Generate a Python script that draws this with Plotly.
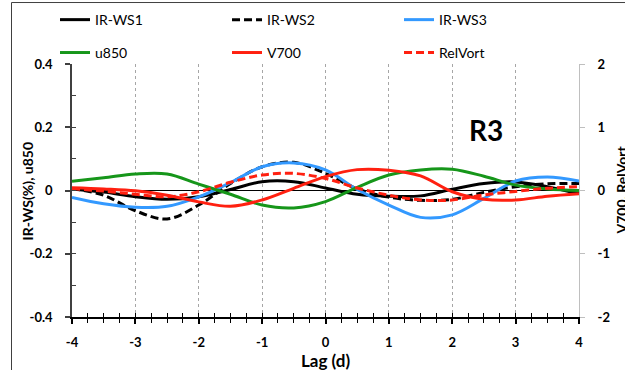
import plotly.graph_objects as go

# ---------------- data ----------------
lag = [-4, -3.5, -3, -2.5, -2, -1.5, -1, -0.5, 0, 0.5, 1, 1.5, 2, 2.5, 3, 3.5, 4]

ir_ws1 = [0.005, -0.005, -0.02, -0.028, -0.02, 0.003, 0.028, 0.028, 0.008, -0.012, -0.018, -0.017, 0.004, 0.022, 0.027, 0.012, -0.01]
ir_ws2 = [0.006, -0.015, -0.064, -0.09, -0.046, 0.022, 0.075, 0.089, 0.054, 0.005, -0.021, -0.031, -0.028, -0.006, 0.012, 0.021, 0.022]
ir_ws3 = [-0.022, -0.042, -0.053, -0.05, -0.02, 0.025, 0.075, 0.087, 0.065, 0.003, -0.046, -0.085, -0.077, -0.025, 0.03, 0.043, 0.03]
u850 = [0.029, 0.04, 0.052, 0.052, 0.02, -0.012, -0.046, -0.055, -0.035, 0.01, 0.049, 0.065, 0.067, 0.045, 0.017, 0.005, 0.0]
v700 = [0.045, 0.025, -0.005, -0.075, -0.18, -0.25, -0.15, 0.035, 0.22, 0.33, 0.32, 0.23, -0.02, -0.14, -0.15, -0.09, -0.05]
relvort = [0.03, -0.01, -0.06, -0.1, -0.02, 0.13, 0.245, 0.27, 0.19, 0.04, -0.075, -0.15, -0.15, -0.07, -0.015, 0.035, 0.06]

x_tick_vals = [-4, -3, -2, -1, 0, 1, 2, 3, 4]
x_tick_text = ["-4", "-3", "-2", "-1", "0", "1", "2", "3", "4"]
left_tick_vals = [0.4, 0.2, 0, -0.2, -0.4]
left_tick_text = ["0.4", "0.2", "0", "-0.2", "-0.4"]
right_tick_vals = [2, 1, 0, -1, -2]
right_tick_text = ["2", "1", "0", "-1", "-2"]

# ---------------- figure ----------------
FONT = "Lato"
BLACK = "#000000"
BLUE = "#3399ff"
GREEN = "#16961a"
RED = "#ff2010"

fig = go.Figure()

def add(name, y, color, dash, yaxis, legend):
    fig.add_trace(go.Scatter(
        x=lag, y=y, name=name, mode="lines",
        line=dict(color=color, width=3, dash=dash, shape="spline"),
        yaxis=yaxis, legend=legend,
    ))

add("IR-WS1", ir_ws1, BLACK, "solid", "y", "legend")
add("IR-WS2", ir_ws2, BLACK, "8px,4px", "y", "legend")
add("IR-WS3", ir_ws3, BLUE, "solid", "y", "legend")
add("u850", u850, GREEN, "solid", "y", "legend2")
add("V700", v700, RED, "solid", "y2", "legend2")
add("RelVort", relvort, RED, "8px,4px", "y2", "legend2")

# helper empty traces for the overlay tick axes
fig.add_trace(go.Scatter(x=[], y=[], xaxis="x2", yaxis="y", showlegend=False, hoverinfo="skip"))
fig.add_trace(go.Scatter(x=[], y=[], xaxis="x", yaxis="y3", showlegend=False, hoverinfo="skip"))

tickfont = dict(family=FONT, size=13, color=BLACK, weight="bold")
legfont = dict(family=FONT, size=14, color=BLACK)

fig.update_layout(
    width=625, height=370,
    margin=dict(l=72, r=46, t=64, b=53, autoexpand=False),
    paper_bgcolor="white", plot_bgcolor="white",
    showlegend=True,
    xaxis=dict(
        range=[-4, 4], tickvals=x_tick_vals, ticktext=x_tick_text,
        ticks="outside", ticklen=5, tickwidth=1.5, tickcolor=BLACK,
        minor=dict(ticks="outside", dtick=0.25, tick0=-4, ticklen=4, tickwidth=1, tickcolor=BLACK, showgrid=False),
        showline=True, linecolor=BLACK, linewidth=1.5,
        showgrid=True, gridcolor="#a6a6a6", griddash="dot", gridwidth=1,
        zeroline=False, tickfont=tickfont, ticklabelstandoff=8,
        fixedrange=True,
    ),
    xaxis2=dict(
        range=[-4, 4], overlaying="x", anchor="y", side="bottom",
        ticks="inside", dtick=0.25, tick0=-4, ticklen=4, tickwidth=1, tickcolor=BLACK,
        showticklabels=False, showgrid=False, zeroline=False, showline=False,
    ),
    yaxis=dict(
        range=[-0.4, 0.4], tickvals=left_tick_vals, ticktext=left_tick_text,
        ticks="outside", ticklen=5, tickwidth=1.5, tickcolor="#404040",
        showline=True, linecolor="#404040", linewidth=1.5,
        showgrid=False, zeroline=True, zerolinecolor=BLACK, zerolinewidth=1,
        tickfont=tickfont, ticklabelstandoff=10,
    ),
    yaxis3=dict(
        range=[-0.4, 0.4], overlaying="y", anchor="x", side="left",
        ticks="inside", dtick=0.1, tick0=0, ticklen=4, tickwidth=1, tickcolor="#404040",
        showticklabels=False, showgrid=False, zeroline=False, showline=False,
    ),
    yaxis2=dict(
        range=[-2, 2], overlaying="y", side="right", anchor="x",
        tickvals=right_tick_vals, ticktext=right_tick_text,
        ticks="outside", ticklen=5, tickwidth=1, tickcolor="#bfbfbf",
        showline=True, linecolor="#bfbfbf", linewidth=1,
        showgrid=False, zeroline=False,
        tickfont=tickfont, ticklabelstandoff=10,
    ),
    legend=dict(
        orientation="h", x=-0.0335, xanchor="left", y=1.237, yanchor="top",
        entrywidth=127, entrywidthmode="pixels", itemwidth=30,
        font=legfont, bgcolor="rgba(0,0,0,0)", borderwidth=0,
    ),
    legend2=dict(
        orientation="h", x=-0.0335, xanchor="left", y=1.107, yanchor="top",
        entrywidth=127, entrywidthmode="pixels", itemwidth=30,
        font=legfont, bgcolor="rgba(0,0,0,0)", borderwidth=0,
    ),
    annotations=[
        dict(text="R3", x=2.54, y=0.19, xref="x", yref="y", showarrow=False,
             font=dict(family=FONT, size=28, color=BLACK, weight="bold")),
        dict(text="IR-WS(%), u850", x=-0.087, y=0.5, xref="paper", yref="paper",
             textangle=-90, showarrow=False, xanchor="center", yanchor="middle",
             font=dict(family=FONT, size=14, color=BLACK, weight="bold")),
        dict(text="V700, RelVort", x=1.083, y=0.5, xref="paper", yref="paper",
             textangle=-90, showarrow=False, xanchor="center", yanchor="middle",
             font=dict(family=FONT, size=14, color=BLACK, weight="bold")),
        dict(text="Lag (d)", x=0.5, y=-0.17, xref="paper", yref="paper",
             showarrow=False, xanchor="center", yanchor="middle",
             font=dict(family=FONT, size=17, color=BLACK, weight="bold")),
    ],
    shapes=[
        dict(type="line", xref="paper", yref="paper", x0=-0.1193, x1=-0.1193, y0=-0.3, y1=1.243,
             line=dict(color="#404040", width=1)),
        dict(type="line", xref="paper", yref="paper", x0=-0.1193, x1=1.2, y0=1.243, y1=1.243,
             line=dict(color="#404040", width=1)),
    ],
)

fig.write_html("out.html")
